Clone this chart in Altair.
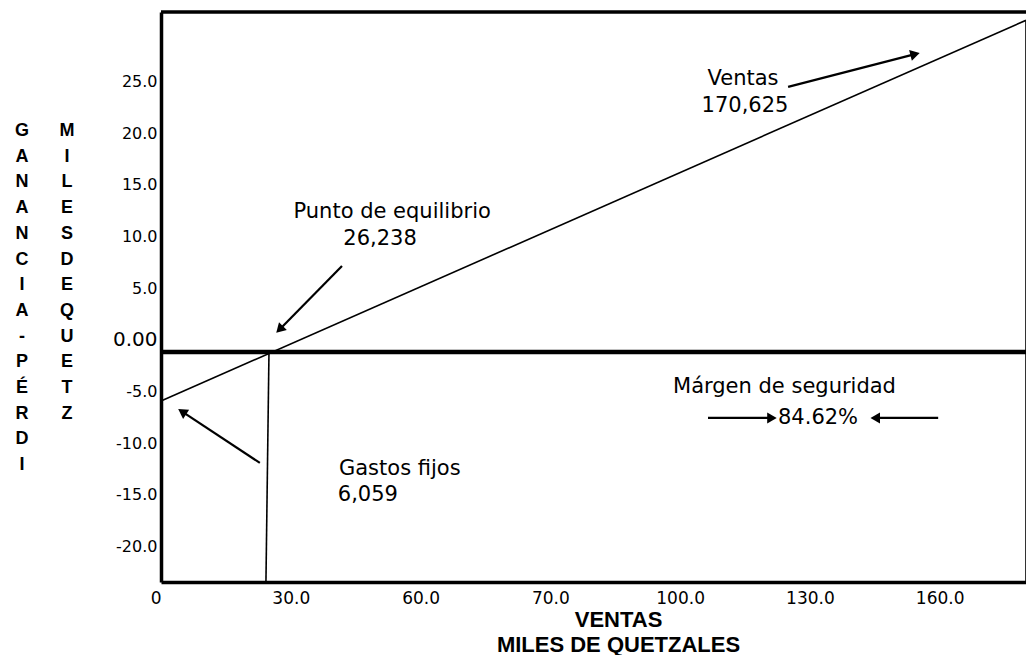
import math
import altair as alt
import pandas as pd

# ---------------- data ----------------
x_domain = [0, 170.625]
y_domain = [-22.27, 32.9]

x_tick_values = [0, 25.6, 51.2, 76.8, 102.4, 128.0, 153.6]
x_tick_labels = ["0", "30.0", "60.0", "70.0", "100.0", "130.0", "160.0"]
y_tick_values = [-20, -15, -10, -5, 0, 5, 10, 15, 20, 25]
y_tick_labels = ["-20.0", "-15.0", "-10.0", "-5.0", "0.00", "5.0", "10.0", "15.0", "20.0", "25.0"]

# profit (ventas) line, break-even vertical, total-sales vertical
profit_x = [0, 170.625]
profit_y = [-4.75, 32.1]
be_x = [21.3, 20.7]
be_y = [0, -22.27]
sales_x = [170.625, 170.625]
sales_y = [32.1, -22.27]

# annotation texts
ann_text = ["Ventas", "170,625", "Punto de equilibrio", "26,238",
            "Gastos fijos", "6,059", "Márgen de seguridad", "84.62%"]
ann_x = [114.8, 115.2, 45.6, 43.2, 47.1, 40.8, 101.0, 129.6]
ann_y = [26.42, 23.8, 13.54, 10.93, -11.33, -13.84, -3.39, -6.39]
ann_align = ["center", "center", "center", "center", "center", "center", "left", "center"]

# arrows: start -> tip
arrow_x0 = [123.7, 35.7, 19.5, 107.9, 153.3]
arrow_y0 = [25.65, 8.32, -10.74, -6.39, -6.39]
arrow_x1 = [149.7, 22.7, 3.35, 121.5, 139.9]
arrow_y1 = [28.94, 1.83, -5.52, -6.39, -6.39]

left_title = ["G", "A", "N", "A", "N", "C", "I", "A", "-", "P", "É", "R", "D", "I"]
left_title2 = ["M", "I", "L", "E", "S", " ", "D", "E", " ", "Q", "U", "E", "T", "Z"]

# ---------------- layout ----------------
W, H = 865, 570
sx = W / (x_domain[1] - x_domain[0])
sy = H / (y_domain[1] - y_domain[0])
FONT = "DejaVu Sans"

x_label_expr = "[" + ",".join("'%s'" % s for s in x_tick_labels) + "][indexof([" + \
    ",".join(str(v) for v in x_tick_values) + "], datum.value)]"
y_label_expr = "[" + ",".join("'%s'" % s for s in y_tick_labels) + "][indexof([" + \
    ",".join(str(v) for v in y_tick_values) + "], datum.value)]"

x_enc = alt.X(
    "x:Q",
    scale=alt.Scale(domain=x_domain, nice=False, zero=False),
    axis=alt.Axis(
        values=x_tick_values, labelExpr=x_label_expr, ticks=False, grid=False,
        domainWidth=3.5, domainColor="black", labelColor="black",
        labelFont=FONT, labelFontSize=17, labelPadding=8,
        labelAlign={"condition": {"test": "datum.value == 0", "value": "right"}, "value": "center"},
        title=["VENTAS", "MILES DE QUETZALES"], titleFont="Liberation Sans",
        titleFontWeight="bold", titleFontSize=22, titleLineHeight=25,
        titleColor="black", titleX=457, titleY=27, titleAlign="center",
        titleBaseline="top", titleAnchor="start",
    ),
)
y_enc = alt.Y(
    "y:Q",
    scale=alt.Scale(domain=y_domain, nice=False, zero=False),
    axis=alt.Axis(
        values=y_tick_values, labelExpr=y_label_expr, ticks=False, grid=False,
        domainWidth=3.5, domainColor="black", labelColor="black",
        labelFont=FONT, labelPadding=4, labelOffset=-12,
        labelFontSize={"condition": {"test": "datum.value == 0", "value": 20}, "value": 16},
        title=None,
    ),
)

# ---------------- layers ----------------
lines_df = pd.DataFrame({
    "x": profit_x + be_x + sales_x,
    "y": profit_y + be_y + sales_y,
    "seg": ["profit"] * 2 + ["be"] * 2 + ["sales"] * 2,
})
lines = alt.Chart(lines_df).mark_line(color="black", strokeWidth=1.6).encode(
    x=x_enc, y=y_enc, detail="seg:N")

zero_line = alt.Chart(pd.DataFrame({"y": [0]})).mark_rule(
    color="black", strokeWidth=4.5).encode(y=y_enc)
top_line = alt.Chart(pd.DataFrame({"y": [y_domain[1]]})).mark_rule(
    color="black", strokeWidth=3.5).encode(y=y_enc)

# arrows
shaft_rows, head_rows = [], []
for i in range(len(arrow_x0)):
    dxp = (arrow_x1[i] - arrow_x0[i]) * sx
    dyp = -(arrow_y1[i] - arrow_y0[i]) * sy
    L = math.hypot(dxp, dyp)
    ux, uy = dxp / L, dyp / L
    back = 5.0
    hx = arrow_x1[i] - back * ux / sx
    hy = arrow_y1[i] + back * uy / sy
    ang = math.degrees(math.atan2(dyp, dxp)) % 360
    shaft_rows.append({"x": arrow_x0[i], "y": arrow_y0[i], "seg": i})
    shaft_rows.append({"x": hx, "y": hy, "seg": i})
    head_rows.append({"x": hx, "y": hy, "ang": ang})

shafts = alt.Chart(pd.DataFrame(shaft_rows)).mark_line(
    color="black", strokeWidth=2.2).encode(x=x_enc, y=y_enc, detail="seg:N")
heads = alt.Chart(pd.DataFrame(head_rows)).mark_point(
    shape="triangle-right", filled=True, color="black", size=120, opacity=1).encode(
    x=x_enc, y=y_enc, angle=alt.Angle("ang:Q", scale=None))

ann_df = pd.DataFrame({"x": ann_x, "y": ann_y, "t": ann_text, "al": ann_align})
texts_c = alt.Chart(ann_df[ann_df.al == "center"]).mark_text(
    font=FONT, fontSize=21, color="black", align="center", baseline="middle").encode(
    x=x_enc, y=y_enc, text="t:N")
texts_l = alt.Chart(ann_df[ann_df.al == "left"]).mark_text(
    font=FONT, fontSize=21, color="black", align="left", baseline="middle").encode(
    x=x_enc, y=y_enc, text="t:N")

dummy = pd.DataFrame({"a": [0]})
col1 = alt.Chart(dummy).mark_text(
    font="Liberation Sans", fontWeight="bold", fontSize=18, lineHeight=25.7,
    align="center", baseline="top", color="black").encode(
    x=alt.value(22 - 161), y=alt.value(110), text=alt.value(left_title))
col2 = alt.Chart(dummy).mark_text(
    font="Liberation Sans", fontWeight="bold", fontSize=18, lineHeight=25.7,
    align="center", baseline="top", color="black").encode(
    x=alt.value(67 - 161), y=alt.value(110), text=alt.value(left_title2))

chart = alt.layer(
    lines, zero_line, top_line, shafts, heads, texts_c, texts_l, col1, col2
).properties(
    width=W, height=H,
    autosize=alt.AutoSizeParams(type="none"),
    padding={"left": 153, "top": 4, "right": 0, "bottom": 73},
    background="white",
).configure_view(stroke=None)

chart.save("out.html", embed_options={"renderer": "svg", "actions": False})
